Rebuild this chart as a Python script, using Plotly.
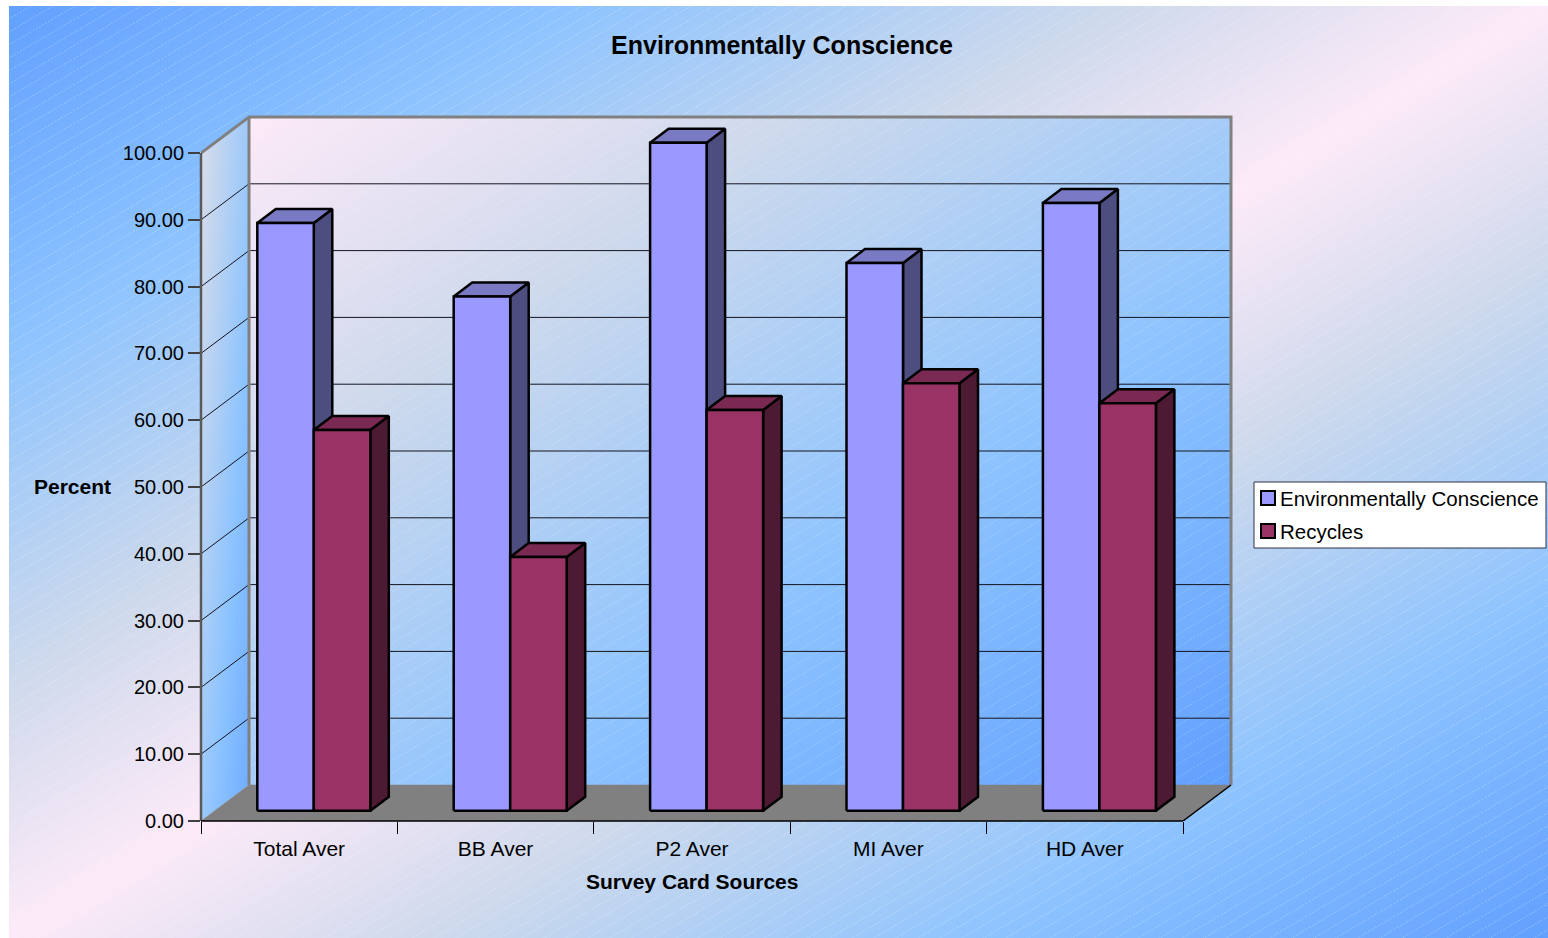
import base64
import plotly.graph_objects as go

# Survey results, in percent
categories = ["Total Aver", "BB Aver", "P2 Aver", "MI Aver", "HD Aver"]
environmentally_conscience = [88, 77, 100, 82, 91]
recycles = [57, 38, 60, 64, 61]
y_ticks = [0, 10, 20, 30, 40, 50, 60, 70, 80, 90, 100]

FONT = "Liberation Sans"
W, H = 1548, 938
LEFT, RIGHT_EDGE, TOP, BOTTOM_EDGE = 201, 1238, 112, 821
CAT_PX = 196.4          # pixels per category slot
UNIT_PX = 6.68          # pixels per percentage point

# Oblique projection offsets, in axis units
WALL_DX, WALL_DY = 48 / CAT_PX, 36 / UNIT_PX
BAR_SHIFT_X, BAR_SHIFT_Y = 14.6 / CAT_PX, 10.2 / UNIT_PX
BAR_DX, BAR_DY = 18.5 / CAT_PX, 14 / UNIT_PX
BAR_W = 56.5 / CAT_PX
N = len(categories)


def px_x(p):
    return (p - LEFT) / (RIGHT_EDGE - LEFT)


def px_y(p):
    return (BOTTOM_EDGE - p) / (BOTTOM_EDGE - TOP)


def svg_uri(body):
    return "data:image/svg+xml;base64," + base64.b64encode(body.encode()).decode()


HATCH = (
    '<pattern id="h" width="22" height="13" patternUnits="userSpaceOnUse">'
    '<path d="M-1 13.6 L23 -0.6" stroke="#fff" stroke-opacity="{o}" '
    'stroke-width="1" stroke-dasharray="2 1.5"/></pattern>'
)

paper_svg = (
    '<svg xmlns="http://www.w3.org/2000/svg" width="1539" height="932"><defs>'
    '<linearGradient id="g" x1="0" y1="0" x2="1" y2="1">'
    '<stop offset="0" stop-color="#62a0ff"/><stop offset=".18" stop-color="#8cc3ff"/>'
    '<stop offset=".36" stop-color="#cdd9ec"/><stop offset=".5" stop-color="#fdeaf8"/>'
    '<stop offset=".64" stop-color="#cdd9ec"/><stop offset=".82" stop-color="#8cc3ff"/>'
    '<stop offset="1" stop-color="#62a0ff"/></linearGradient>'
    + HATCH.format(o=".28") +
    '</defs><rect width="1539" height="932" fill="url(#g)"/>'
    '<rect width="1539" height="932" fill="url(#h)"/></svg>'
)

WALL_STOPS = (
    '<stop offset="0" stop-color="#fdeaf8"/><stop offset=".28" stop-color="#cdd9ec"/>'
    '<stop offset=".64" stop-color="#8cc3ff"/><stop offset="1" stop-color="#62a0ff"/>'
)

back_svg = (
    '<svg xmlns="http://www.w3.org/2000/svg" width="982" height="668"><defs>'
    '<linearGradient id="g" x1="0" y1="0" x2="1" y2="1">' + WALL_STOPS + '</linearGradient>'
    + HATCH.format(o=".22") +
    '</defs><rect width="982" height="668" fill="url(#g)"/>'
    '<rect width="982" height="668" fill="url(#h)"/></svg>'
)

side_svg = (
    '<svg xmlns="http://www.w3.org/2000/svg" width="48" height="704" '
    'preserveAspectRatio="none"><defs>'
    '<linearGradient id="g" x1="-.3" y1="-.3" x2="1.17" y2="1.17">' + WALL_STOPS + '</linearGradient>'
    '</defs><polygon points="0,36 48,0 48,668 0,704" fill="url(#g)"/></svg>'
)

images = [
    dict(source=svg_uri(paper_svg), xref="paper", yref="paper", x=px_x(9), y=px_y(6),
         sizex=1539 / (RIGHT_EDGE - LEFT), sizey=932 / (BOTTOM_EDGE - TOP),
         xanchor="left", yanchor="top", sizing="stretch", layer="below"),
    dict(source=svg_uri(back_svg), xref="x", yref="y", x=WALL_DX, y=100 + WALL_DY,
         sizex=N, sizey=100, xanchor="left", yanchor="top", sizing="stretch", layer="below"),
    dict(source=svg_uri(side_svg), xref="x", yref="y", x=0, y=100 + WALL_DY,
         sizex=WALL_DX, sizey=100 + WALL_DY, xanchor="left", yanchor="top",
         sizing="stretch", layer="below"),
]

fig = go.Figure()


def polygon(xs, ys, fill, line="#000000", width=2.5):
    fig.add_trace(go.Scatter(
        x=xs + xs[:1], y=ys + ys[:1], mode="lines", fill="toself", fillcolor=fill,
        line=dict(color=line, width=width), hoverinfo="skip", showlegend=False,
        cliponaxis=False,
    ))


def path(xs, ys, color, width):
    fig.add_trace(go.Scatter(
        x=xs, y=ys, mode="lines", line=dict(color=color, width=width),
        hoverinfo="skip", showlegend=False, cliponaxis=False,
    ))


# Floor
polygon([0, N, N + WALL_DX, WALL_DX], [0, 0, WALL_DY, WALL_DY], "#808080", "#808080", 0.5)

# Gridlines wrap from the side wall onto the back wall
for v in y_ticks[1:-1]:
    path([0, WALL_DX, N + WALL_DX], [v, v + WALL_DY, v + WALL_DY], "#14141f", 1)

# Wall frame
path([WALL_DX, WALL_DX], [WALL_DY, 100 + WALL_DY], "#808080", 3)
path([0, WALL_DX, N + WALL_DX, N + WALL_DX],
     [100, 100 + WALL_DY, 100 + WALL_DY, WALL_DY], "#808080", 3)
path([N, N + WALL_DX], [0, WALL_DY], "#000000", 1.5)


def bar3d(i, left_offset, value, front, side, top):
    x0 = i + 0.5 + BAR_SHIFT_X + left_offset
    x1 = x0 + BAR_W
    y0 = BAR_SHIFT_Y
    y1 = BAR_SHIFT_Y + value
    polygon([x1, x1 + BAR_DX, x1 + BAR_DX, x1],
            [y0, y0 + BAR_DY, y1 + BAR_DY, y1], side)
    polygon([x0, x1, x1 + BAR_DX, x0 + BAR_DX],
            [y1, y1, y1 + BAR_DY, y1 + BAR_DY], top)
    polygon([x0, x1, x1, x0], [y0, y0, y1, y1], front)


for i in range(N):
    bar3d(i, -BAR_W, environmentally_conscience[i], "#9999ff", "#4d4d80", "#7a7ac4")
    bar3d(i, 0, recycles[i], "#993366", "#4d1a33", "#7a2952")

text = dict(family=FONT, color="#000000")


def label(content, px, py, size, anchor="center"):
    return dict(text=content, x=px_x(px), y=px_y(py), xref="paper", yref="paper",
                xanchor=anchor, yanchor="middle", showarrow=False,
                font=dict(size=size, **text))


annotations = [
    label("<b>Survey Card Sources</b>", 692, 881, 21),
    label("<b>Percent</b>", 72.5, 486, 21),
    label("Environmentally Conscience", 1278, 498, 20.5, "left"),
    label("Recycles", 1278, 531, 20.5, "left"),
]


def rect(x0, y0, x1, y1, fill, line, width):
    return dict(type="rect", xref="paper", yref="paper", x0=px_x(x0), x1=px_x(x1),
                y0=px_y(y0), y1=px_y(y1), fillcolor=fill,
                line=dict(color=line, width=width), layer="above")


shapes = [
    # Axis lines sit on the plot edge, so they are drawn unclipped across that edge
    dict(type="line", xref="paper", yref="y", x0=0, x1=0, y0=0, y1=100,
         line=dict(color="#5a5a5a", width=2.5), layer="above"),
    dict(type="line", xref="x", yref="paper", x0=0, x1=N, y0=0, y1=0,
         line=dict(color="#000000", width=1.5), layer="above"),
    rect(1254, 482, 1546, 548, "#ffffff", "#333344", 1),
    rect(1261, 491, 1275, 505, "#9999ff", "#000000", 2),
    rect(1261, 524, 1275, 538, "#993366", "#000000", 2),
]

fig.update_layout(
    width=W, height=H,
    margin=dict(l=LEFT, r=W - RIGHT_EDGE, t=TOP, b=H - BOTTOM_EDGE, pad=0),
    paper_bgcolor="#ffffff", plot_bgcolor="rgba(0,0,0,0)",
    showlegend=False, images=images, annotations=annotations, shapes=shapes,
    title=dict(text="<b>Environmentally Conscience</b>", x=782 / W, y=1 - 45 / H,
               xanchor="center", yanchor="middle", xref="container", yref="container",
               font=dict(size=25, **text)),
    xaxis=dict(
        range=[0, (RIGHT_EDGE - LEFT) / CAT_PX], tickmode="array",
        tickvals=[i + 0.5 for i in range(N)], ticktext=categories,
        ticks="outside", ticklen=0, tickfont=dict(size=21, **text),
        ticklabelstandoff=9, showgrid=False, zeroline=False, showline=False,
        minor=dict(tickmode="array", tickvals=list(range(N + 1)), ticks="outside",
                   ticklen=12, tickcolor="#000000", tickwidth=1, showgrid=False),
        fixedrange=True,
    ),
    yaxis=dict(
        range=[0, (BOTTOM_EDGE - TOP) / UNIT_PX], tickmode="array", tickvals=y_ticks,
        ticktext=[f"{v:.2f}" for v in y_ticks],
        ticks="outside", ticklen=12, tickcolor="#404040", tickwidth=1.5,
        tickfont=dict(size=20, **text), showgrid=False, zeroline=False, showline=False,
        fixedrange=True,
    ),
)

fig.write_html("out.html")
